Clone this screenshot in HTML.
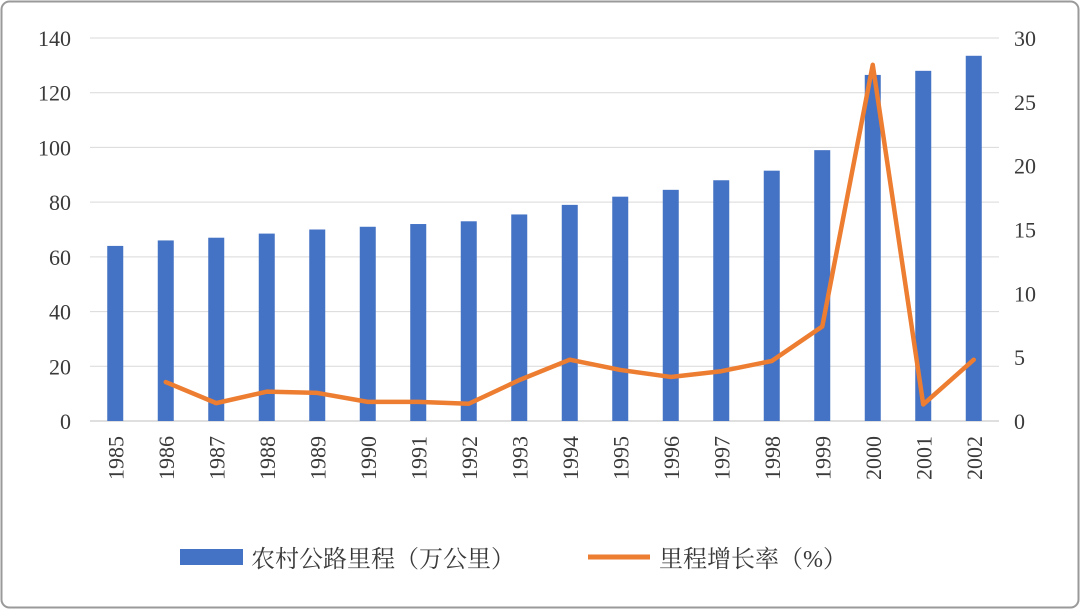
<!DOCTYPE html>
<html><head><meta charset="utf-8"><style>
html,body{margin:0;padding:0;background:#fff;}
body{width:1080px;height:609px;overflow:hidden;}
svg text{font-family:"Liberation Serif","Noto Serif CJK SC",serif;fill:#3a3a3a;}
</style></head><body>
<svg id="chart" width="1080" height="609" xmlns="http://www.w3.org/2000/svg">
<rect x="1.5" y="1.5" width="1077" height="606" rx="8" fill="#fff" stroke="#9a9a9a" stroke-width="2"/>
<g id="grid"></g>
<g id="bars"></g>
<g id="line"></g>
<g id="axes"></g>
<g>
<rect x="180" y="549" width="63" height="16" fill="#4472c4"/>
<text x="251" y="567" font-size="24">农村公路里程（万公里）</text>
<line x1="588" y1="557" x2="650" y2="557" stroke="#ed7d31" stroke-width="5"/>
<text x="659" y="567" font-size="24">里程增长率（%）</text>
</g>
</svg>
<script>
const categories=["1985","1986","1987","1988","1989","1990","1991","1992","1993","1994","1995","1996","1997","1998","1999","2000","2001","2002"];
const mileage=[64,66,67,68.5,70,71,72,73,75.5,79,82,84.5,88,91.5,99,126.5,128,133.5];
const growth=[null,3.05,1.4,2.3,2.2,1.5,1.5,1.35,3.2,4.8,4.0,3.45,3.9,4.7,7.4,27.9,1.3,4.8];
const leftTicks=[0,20,40,60,80,100,120,140];
const rightTicks=[0,5,10,15,20,25,30];
const NS="http://www.w3.org/2000/svg";
const x0=90,x1=999,yB=421,yT=38;
const yL=v=>yB-(v/140)*(yB-yT);
const yR=v=>yB-(v/30)*(yB-yT);
const step=(x1-x0)/categories.length;
const xc=i=>x0+step*(i+0.5);
function mk(tag,attrs,parent){const e=document.createElementNS(NS,tag);for(const k in attrs)e.setAttribute(k,attrs[k]);parent.appendChild(e);return e;}
const grid=document.getElementById('grid'),bars=document.getElementById('bars'),line=document.getElementById('line'),axes=document.getElementById('axes');
leftTicks.forEach(t=>{
 const g=mk('line',{x1:x0,x2:x1,y1:yL(t),y2:yL(t),stroke:t===0?'#bfbfbf':'#d9d9d9','stroke-width':1},grid);
 
 
 const tx=mk('text',{x:71,y:yL(t)+8,'font-size':22,'text-anchor':'end'},axes);
 tx.textContent=t;
 
 
});
rightTicks.forEach(t=>{
 const tx=mk('text',{x:1014,y:yR(t)+8,'font-size':22,'text-anchor':'start'},axes);
 tx.textContent=t;
 
 
});
categories.forEach((c,i)=>{
 const b=mk('rect',{x:xc(i)-8,y:yL(mileage[i]),width:16,height:yB-yL(mileage[i]),fill:'#4472c4'},bars);
 
 
 const tx=mk('text',{x:0,y:0,'font-size':22,'text-anchor':'end',transform:`translate(${xc(i)+8},436) rotate(-90)`},axes);
 tx.textContent=c;
 
 
});
let pts=[];growth.forEach((v,i)=>{if(v!==null)pts.push(xc(i)+','+yR(v));});
const pl=mk('polyline',{points:pts.join(' '),fill:'none',stroke:'#ed7d31','stroke-width':4.5,'stroke-linejoin':'round','stroke-linecap':'round'},line);


</script>
</body></html>
